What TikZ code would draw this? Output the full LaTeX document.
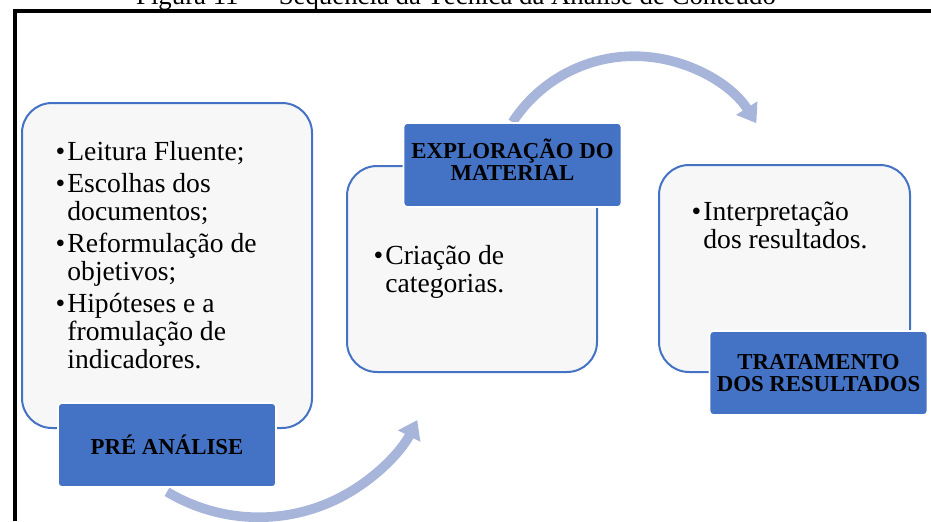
\documentclass[tikz,border=0pt]{standalone}
\usepackage{fontspec}
\setmainfont{Liberation Serif}
\usetikzlibrary{arrows.meta,positioning,backgrounds}
\definecolor{azulborda}{RGB}{68,114,196}
\definecolor{azulseta}{RGB}{167,181,219}
\definecolor{cinzafundo}{RGB}{247,247,247}
\newcommand{\marca}{\llap{\textbullet\hspace{1pt}}}

\begin{document}
\begin{tikzpicture}[
    x=0.5pt, y=-0.5pt,
    every node/.style={inner sep=0pt},
    caixa/.style={rectangle, draw=azulborda, line width=1pt, fill=cinzafundo, rounded corners=15pt},
    rotulo/.style={rectangle, draw=white, line width=0.8pt, fill=azulborda, rounded corners=2pt, minimum width=109pt, minimum height=42pt, align=center, font=\fontsize{11.4}{11}\selectfont\bfseries},
    texto/.style={anchor=north west, align=left, font=\fontsize{13.8}{14}\selectfont},
    ciclo/.style={draw=azulseta, line width=4.8pt, -{Triangle[width=12pt,length=9pt]}}
]
\path[use as bounding box, clip] (0,0) rectangle (931,521);
% moldura e titulo cortado
\draw[line width=1.8pt] (15,521) -- (15,11) -- (931,11);
\node[anchor=base, font=\fontsize{13.4}{15}\selectfont] (titulo) at (456,4) {Figura 11 --- Sequência da Técnica da Análise de Conteúdo};

\node[caixa, minimum width=145pt, minimum height=162.5pt] (b1) at (167,265.5) {};
\node[caixa, minimum width=125pt, minimum height=103pt] (b2) at (472,269) {};
\node[caixa, minimum width=125.5pt, minimum height=103.5pt] (b3) at (784.5,268.5) {};

\node[texto] (t1) at (67,141) {\marca Leitura Fluente;\\[2pt]
    \marca Escolhas dos\\ documentos;\\[2pt]
    \marca Reformulação de\\ objetivos;\\[2pt]
    \marca Hipóteses e a\\ fromulação de\\ indicadores.};
\node[texto] (t2) at (385,245) {\marca Criação de\\ categorias.};
\node[texto] (t3) at (703,201) {\marca Interpretação\\ dos resultados.};

\node[rotulo] (pre) at ([yshift=-8pt]b1.south) {PRÉ ANÁLISE};
\node[rotulo] (expl) at ([xshift=20.25pt]b2.north) {EXPLORAÇÃO DO\\MATERIAL\\[-6pt]\mbox{}};
\node[rotulo] (trat) at ([xshift=17pt]b3.south) {TRATAMENTO\\DOS RESULTADOS};

\begin{scope}[on background layer]
\draw[ciclo] ([yshift=-2pt]pre.south) arc[start angle=121, end angle=27, radius=178];
\draw[ciclo] (expl.north) arc[start angle=-147, end angle=-32.5, radius=145];
\end{scope}
\end{tikzpicture}
\end{document}
